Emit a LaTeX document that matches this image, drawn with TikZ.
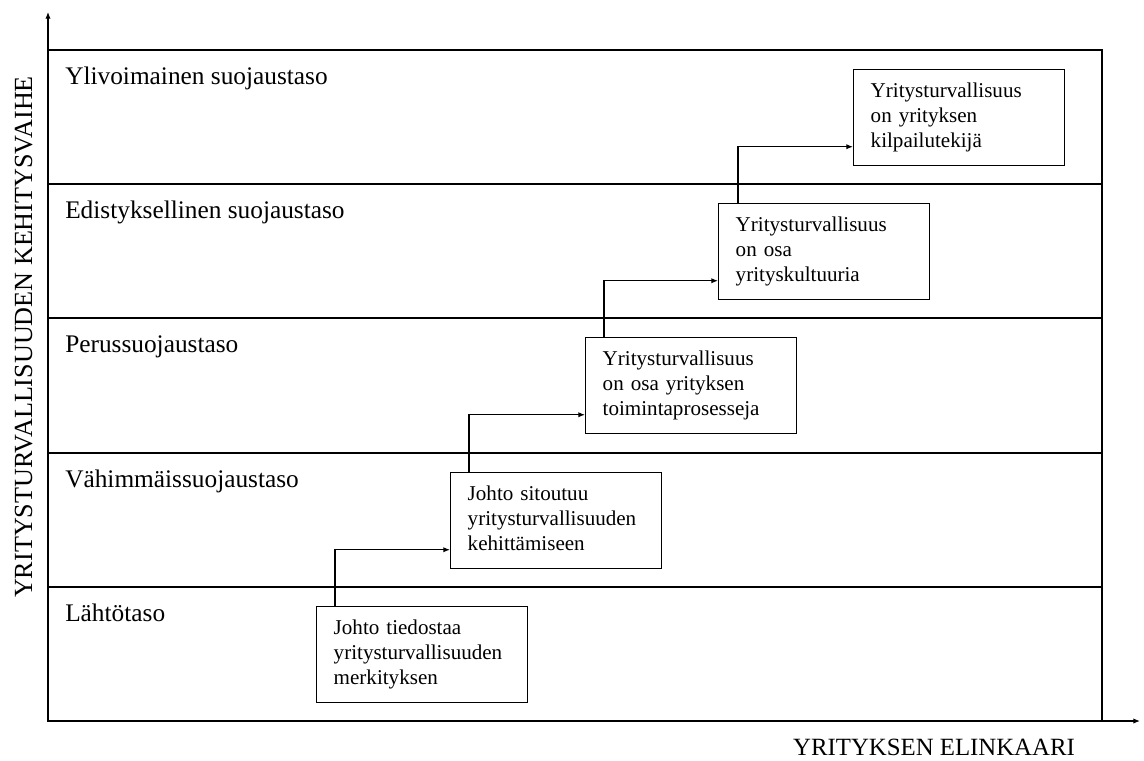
\documentclass[tikz,border=0pt]{standalone}
\usepackage{fontspec}
\setmainfont{Liberation Serif}
\usetikzlibrary{arrows.meta}

\begin{document}
\begin{tikzpicture}[
        x={(0.75pt,0pt)},
        y={(0pt,-0.75pt)},
        frame/.style={line width=1.1pt},
        level/.style={anchor=base west, inner sep=0pt, font=\fontsize{19}{22}\selectfont},
        stage/.style={draw, line width=1.1pt, anchor=north west, align=left,
            minimum width=158.25pt, minimum height=72pt, text width=132.75pt,
            inner xsep=12.75pt, inner ysep=0pt, font=\fontsize{15.8}{18.75}\selectfont,
            execute at begin node=\strut, execute at end node=\strut},
        flow/.style={-{Latex[length=5pt,width=4pt]}, line width=0.9pt},
        axislabel/.style={anchor=base, inner sep=0pt, font=\fontsize{18.6}{22}\selectfont}]

        \useasboundingbox (0,0) rectangle (1144,760);

        % Axes
        \coordinate (origin) at (48,721);
        \coordinate (ytip) at (48,12);
        \coordinate (xtip) at (1140,721);
        \draw[flow] (origin) -- (ytip);
        \draw[flow] (origin) -- (xtip);

        % Levels
        \draw[frame] (48,50) rectangle (1102,721);
        \foreach \y in {184,318,453,587}
            \draw[frame] (48,\y) -- (1102,\y);

        \node[level] (lvl5) at (65,84) {Ylivoimainen suojaustaso};
        \node[level] (lvl4) at (65,218) {Edistyksellinen suojaustaso};
        \node[level] (lvl3) at (65,352) {Perussuojaustaso};
        \node[level] (lvl2) at (65,487) {Vähimmäissuojaustaso};
        \node[level] (lvl1) at (65,621) {Lähtötaso};

        % Axis labels
        \node[axislabel, rotate=90, font=\fontsize{19.6}{22}\selectfont] (ylabel) at (32,337) {YRITYSTURVALLISUUDEN KEHITYSVAIHE};
        \node[axislabel] (xlabel) at (934,755) {YRITYKSEN ELINKAARI};

        % Stages
        \node[stage] (s1) at (316,606) {Johto tiedostaa\\yritysturvallisuuden\\merkityksen};
        \node[stage] (s2) at (450,472) {Johto sitoutuu\\yritysturvallisuuden\\kehittämiseen};
        \node[stage] (s3) at (585,337) {Yritysturvallisuus\\on osa yrityksen\\toimintaprosesseja};
        \node[stage] (s4) at (718,203) {Yritysturvallisuus\\on osa\\yrityskultuuria};
        \node[stage] (s5) at (853,69) {Yritysturvallisuus\\on yrityksen\\kilpailutekijä};

        % Steps
        \draw[flow] ([xshift=14.25pt]s1.north west) |- ([yshift=-21.75pt]s2.west);
        \draw[flow] ([xshift=14.25pt]s2.north west) |- ([yshift=-21.75pt]s3.west);
        \draw[flow] ([xshift=14.25pt]s3.north west) |- ([yshift=-21.75pt]s4.west);
        \draw[flow] ([xshift=15pt]s4.north west) |- ([yshift=-21.75pt]s5.west);
    \end{tikzpicture}
\end{document}
